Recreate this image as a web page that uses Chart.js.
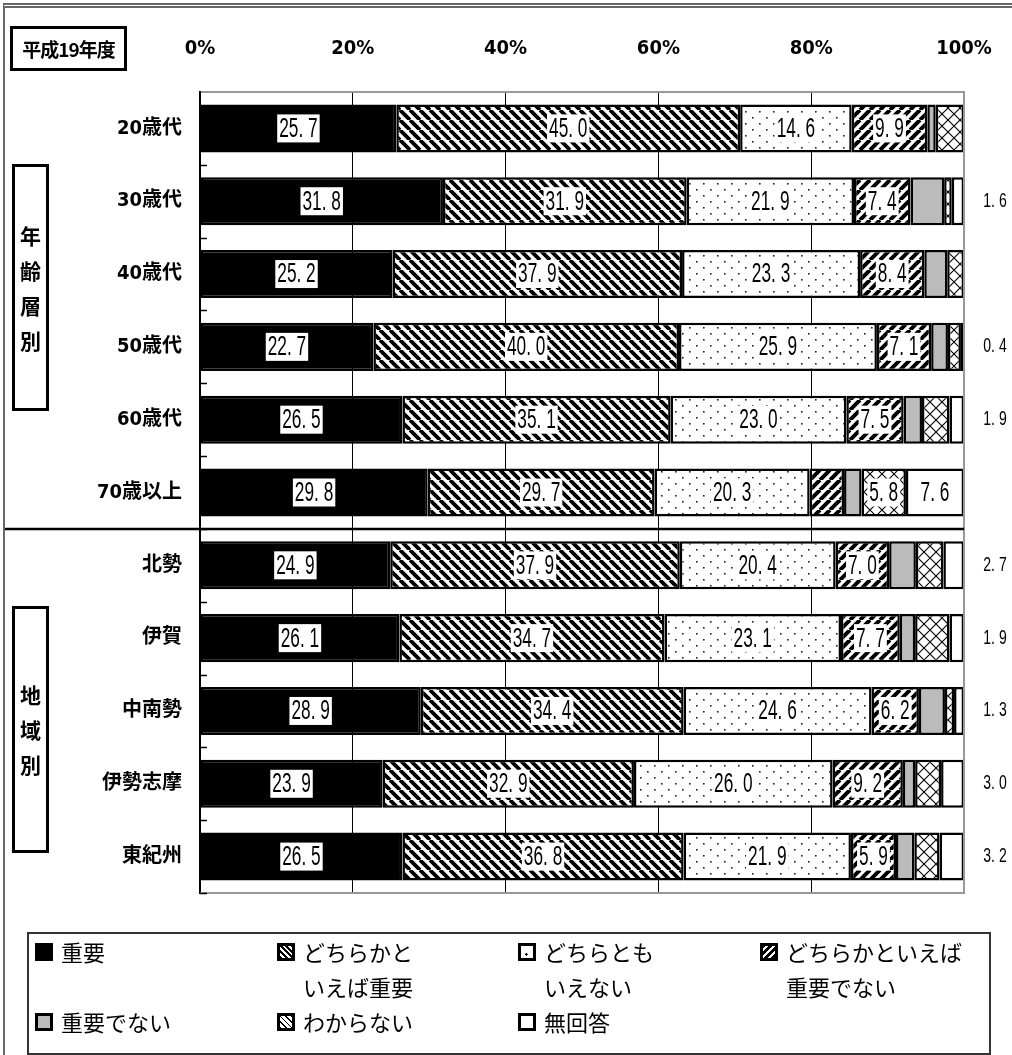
<!DOCTYPE html>
<html lang="ja">
<head>
<meta charset="utf-8">
<title>平成19年度</title>
<script src="https://cdn.jsdelivr.net/npm/chart.js@4.4.1/dist/chart.umd.min.js"></script>
<style>
  html, body { margin: 0; padding: 0; background: #fff; }
  body { width: 1012px; height: 1055px; overflow: hidden; }
  #wrap { position: relative; width: 1012px; height: 1055px; font-family: "Noto Sans CJK JP", sans-serif; color: #000; }
  #chart { position: absolute; left: 0; top: 0; }
  .frame { position: absolute; left: 3px; top: 3px; width: 1020px; height: 1060px;
           border-left: 2px solid #666; border-top: 5px double #666; }
  .yearBox { position: absolute; left: 10px; top: 26px; width: 111px; height: 39px;
             border: 3px solid #000; font: bold 19px "Noto Sans CJK JP", sans-serif;
             line-height: 39px; text-align: center; letter-spacing: -1px; }
  .groupBox { position: absolute; left: 12px; width: 31px; border: 3px solid #000;
              display: flex; align-items: center; justify-content: center;
              font: bold 21px "Noto Sans CJK JP", sans-serif; line-height: 35px; text-align: center; }
  .legendBox { position: absolute; left: 27px; top: 932px; width: 960px; height: 119px;
               border: 2px solid #333; }
  .lg { position: absolute; font: 22px "Noto Sans CJK JP", sans-serif; line-height: 35px; padding-left: 26px; }
  .lg i { position: absolute; left: 0; top: 9px; width: 12px; height: 12px; border: 3px solid #000; }
</style>
</head>
<body>
<div id="wrap">
  <canvas id="chart" width="1012" height="1055"></canvas>
  <div class="frame"></div>
  <div class="yearBox">平成19年度</div>
  <div class="groupBox" style="top:164px;height:241px;">年<br>齢<br>層<br>別</div>
  <div class="groupBox" style="top:606px;height:241px;">地<br>域<br>別</div>
  <div class="legendBox"></div>
  <div class="lg" style="left:35px;top:934px;"><i style="background:#000"></i>重要</div>
  <div class="lg" style="left:277px;top:934px;"><i style="background:repeating-linear-gradient(45deg,#000 0 2px,#fff 2px 4px)"></i>どちらかと<br>いえば重要</div>
  <div class="lg" style="left:518px;top:934px;"><i style="background:radial-gradient(circle at 45% 70%,#000 1px,#fff 1.5px)"></i>どちらとも<br>いえない</div>
  <div class="lg" style="left:760px;top:934px;"><i style="background:repeating-linear-gradient(-45deg,#000 0 3px,#fff 3px 5px)"></i>どちらかといえば<br>重要でない</div>
  <div class="lg" style="left:35px;top:1004px;"><i style="background:#bbb"></i>重要でない</div>
  <div class="lg" style="left:277px;top:1004px;"><i style="background:repeating-linear-gradient(45deg,#000 0 1px,#fff 1px 4px),#fff"></i>わからない</div>
  <div class="lg" style="left:518px;top:1004px;"><i style="background:#fff"></i>無回答</div>
</div>

<script>
  // ---- Data ----
  const categories = ['20歳代', '30歳代', '40歳代', '50歳代', '60歳代', '70歳以上',
                      '北勢', '伊賀', '中南勢', '伊勢志摩', '東紀州'];
  const seriesNames = ['重要', 'どちらかといえば重要', 'どちらともいえない',
                       'どちらかといえば重要でない', '重要でない', 'わからない', '無回答'];
  const juyo        = [25.7, 31.8, 25.2, 22.7, 26.5, 29.8, 24.9, 26.1, 28.9, 23.9, 26.5];
  const yayaJuyo    = [45.0, 31.9, 37.9, 40.0, 35.1, 29.7, 37.9, 34.7, 34.4, 32.9, 36.8];
  const dochiramo   = [14.6, 21.9, 23.3, 25.9, 23.0, 20.3, 20.4, 23.1, 24.6, 26.0, 21.9];
  const yayaNot     = [9.9, 7.4, 8.4, 7.1, 7.5, 4.5, 7.0, 7.7, 6.2, 9.2, 5.9];
  const notJuyo     = [1.1, 4.4, 3.0, 2.2, 2.4, 2.3, 3.5, 2.0, 3.4, 1.6, 2.4];
  const wakaranai   = [3.7, 1.0, 2.2, 1.7, 3.6, 5.8, 3.6, 4.5, 1.2, 3.4, 3.3];
  const muKaito     = [0, 1.6, 0, 0.4, 1.9, 7.6, 2.7, 1.9, 1.3, 3.0, 3.2];
  const tickLabels  = ['0%', '20%', '40%', '60%', '80%', '100%'];
  const labelMin = 5;

  (function () {
    'use strict';

    const NARROW = '"DejaVu Sans Condensed", "Noto Sans CJK JP", sans-serif';
    const LABEL_FONT = '"Liberation Sans", "Noto Sans CJK JP", sans-serif';

    // ---- Fill patterns ----
    function tile(w, h, draw) {
      const c = document.createElement('canvas');
      c.width = w; c.height = h;
      const g = c.getContext('2d');
      g.fillStyle = '#fff';
      g.fillRect(0, 0, w, h);
      draw(g, w, h);
      return g.createPattern(c, 'repeat');
    }
    const ctx = document.getElementById('chart').getContext('2d');
    const fills = [
      '#000',
      tile(10, 10, (g, s) => {          // "\\\" stripes
        g.strokeStyle = '#000'; g.lineWidth = 3.8;
        g.beginPath();
        for (const k of [-s, 0, s]) { g.moveTo(k, 0); g.lineTo(k + s, s); }
        g.stroke();
      }),
      tile(14, 12, g => {               // sparse dots
        g.fillStyle = '#222';
        g.fillRect(3, 3, 1.6, 1.6);
        g.fillRect(10, 9, 1.6, 1.6);
      }),
      tile(10, 10, (g, s) => {          // "///" stripes
        g.strokeStyle = '#000'; g.lineWidth = 4;
        g.beginPath();
        for (const k of [-s, 0, s]) { g.moveTo(k, s); g.lineTo(k + s, 0); }
        g.stroke();
      }),
      '#bbb',
      tile(12, 12, (g, s) => {          // cross hatch
        g.strokeStyle = '#000'; g.lineWidth = 1.1;
        g.beginPath();
        g.moveTo(0, 0); g.lineTo(s, s);
        g.moveTo(0, s); g.lineTo(s, 0);
        g.stroke();
      }),
      '#fff'
    ];

    const values = [juyo, yayaJuyo, dochiramo, yayaNot, notJuyo, wakaranai, muKaito];
    const datasets = values.map((arr, i) => ({
      label: seriesNames[i],
      data: arr.map(v => (v > 0 ? v : null)),
      backgroundColor: fills[i],
      borderColor: '#000',
      borderWidth: 2.5,
      borderSkipped: false,
      barPercentage: 0.66,
      categoryPercentage: 1
    }));

    // condensed text, drawn with a horizontal squeeze
    function narrowText(c, t, x, y, sx) {
      c.save();
      c.translate(x, y);
      c.scale(sx, 1);
      c.fillText(t, 0, 0);
      c.restore();
    }

    // ---- Decorations: inward y ticks, frame, divider, value labels ----
    const decor = {
      id: 'decor',
      afterDraw(chart) {
        const c = chart.ctx;
        const a = chart.chartArea;
        const ys = chart.scales.y;
        const step = ys.getPixelForValue(1) - ys.getPixelForValue(0);
        c.save();

        // right / bottom frame
        c.strokeStyle = '#999'; c.lineWidth = 2;
        c.beginPath();
        c.moveTo(a.right, a.top); c.lineTo(a.right, a.bottom); c.lineTo(a.left, a.bottom);
        c.stroke();

        // inward category ticks
        c.strokeStyle = '#000'; c.lineWidth = 1.5;
        c.beginPath();
        for (let i = 1; i <= categories.length; i++) {
          const y = Math.round(ys.getPixelForValue(i) - step / 2) + 0.5;
          c.moveTo(a.left, y); c.lineTo(a.left + 7, y);
        }
        c.stroke();

        // age / region divider
        const dy = Math.round((ys.getPixelForValue(5) + ys.getPixelForValue(6)) / 2);
        c.lineWidth = 2.5;
        c.beginPath(); c.moveTo(3, dy); c.lineTo(a.right, dy); c.stroke();

        // value labels
        c.textAlign = 'center';
        c.textBaseline = 'middle';
        chart.data.datasets.forEach((ds, di) => {
          chart.getDatasetMeta(di).data.forEach((bar, j) => {
            const v = values[di][j];
            if (!v) return;
            const t = v.toFixed(1).replace('.', '. ');
            if (v >= labelMin) {
              c.font = '27px ' + LABEL_FONT;
              const cx = bar.x - (bar.x - bar.base) / 2;
              const w = c.measureText(t).width * 0.64 + 4;
              c.fillStyle = '#fff';
              c.fillRect(cx - w / 2, bar.y - 14, w, 28);
              c.fillStyle = '#000';
              narrowText(c, t, cx, bar.y + 1, 0.64);
            } else if (di === values.length - 1) {
              c.font = '20px ' + LABEL_FONT;
              c.fillStyle = '#000';
              narrowText(c, t, a.right + 31, bar.y, 0.7);
            }
          });
        });
        c.restore();
      }
    };

    // ---- Chart ----
    new Chart(ctx, {
      type: 'bar',
      data: { labels: categories, datasets: datasets },
      options: {
        indexAxis: 'y',
        responsive: false,
        animation: false,
        devicePixelRatio: 1,
        layout: { padding: { left: 0, top: 0, right: 48, bottom: 162 } },
        plugins: { legend: { display: false }, tooltip: { enabled: false } },
        scales: {
          x: {
            position: 'top',
            stacked: true,
            min: 0,
            max: 100,
            ticks: {
              stepSize: 20,
              padding: 31,
              color: '#000',
              font: { family: NARROW, size: 20, weight: 'bold' },
              callback: (v, i) => tickLabels[i]
            },
            grid: { color: '#000', lineWidth: 1, drawTicks: false },
            border: { color: '#999', width: 2 },
            afterFit: s => { s.height = 92; s.paddingLeft = 0; s.paddingRight = 0; }
          },
          y: {
            stacked: true,
            ticks: {
              padding: 10,
              color: '#000',
              font: { family: NARROW, size: 20, weight: 'bold' }
            },
            grid: { display: false },
            border: { color: '#000', width: 2 },
            afterFit: s => { s.width = 200; s.paddingTop = 0; s.paddingBottom = 0; }
          }
        }
      },
      plugins: [decor]
    });
  })();
</script>
</body>
</html>
